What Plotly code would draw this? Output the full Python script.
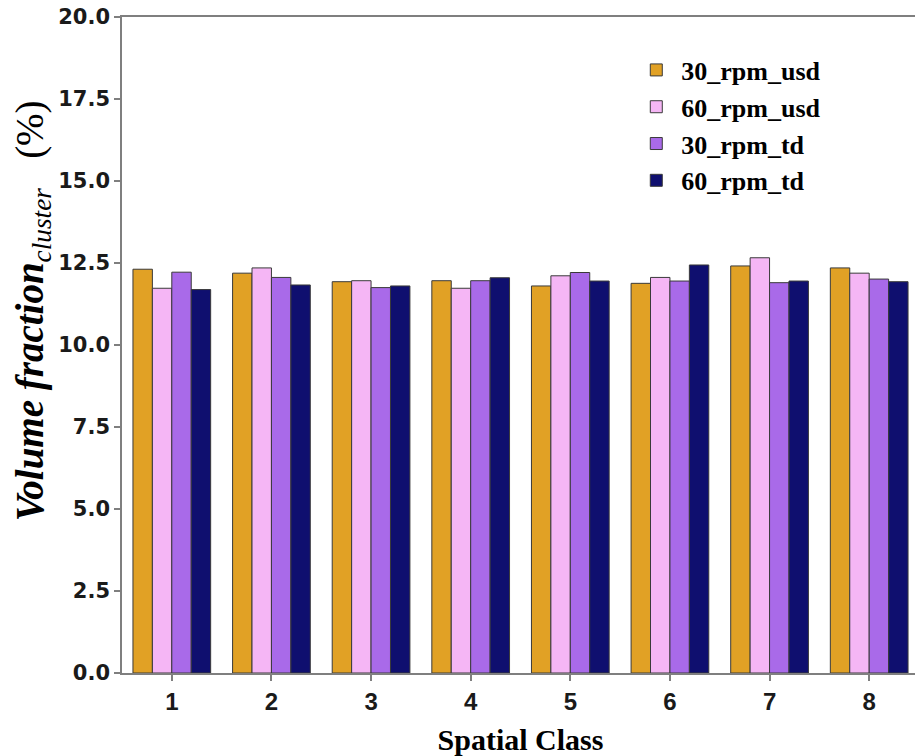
import plotly.graph_objects as go

categories = [1, 2, 3, 4, 5, 6, 7, 8]
series_names = ["30_rpm_usd", "60_rpm_usd", "30_rpm_td", "60_rpm_td"]
rpm30_usd = [12.31, 12.19, 11.93, 11.96, 11.80, 11.88, 12.41, 12.35]
rpm60_usd = [11.73, 12.35, 11.96, 11.73, 12.11, 12.06, 12.66, 12.19]
rpm30_td = [12.22, 12.06, 11.75, 11.96, 12.21, 11.95, 11.90, 12.01]
rpm60_td = [11.69, 11.83, 11.80, 12.05, 11.95, 12.44, 11.95, 11.93]
colors = ["#E1A125", "#F5B6F5", "#A96AE9", "#0F0F6F"]
y_ticks = [0, 2.5, 5, 7.5, 10, 12.5, 15, 17.5, 20]

fig = go.Figure()
for name, vals, col in zip(series_names, [rpm30_usd, rpm60_usd, rpm30_td, rpm60_td], colors):
    fig.add_trace(go.Bar(
        x=categories, y=vals, name=name,
        marker=dict(color=col, line=dict(color="#3a3a3a", width=1)),
    ))

axis_line = "#7f7f7f"
fig.update_layout(
    width=915, height=748,
    margin=dict(l=114, r=4, t=9, b=83),
    paper_bgcolor="white", plot_bgcolor="white",
    barmode="group", bargap=0.22, bargroupgap=0,
    showlegend=True,
    legend=dict(
        x=0.639, y=0.955, xanchor="left", yanchor="top",
        font=dict(family="Liberation Serif", size=26, color="black", weight="bold"),
        bgcolor="rgba(255,255,255,0)", borderwidth=0,
        itemwidth=40, tracegroupgap=0,
    ),
    xaxis=dict(
        range=[0.5, 8.5], tickmode="array", tickvals=categories,
        ticktext=[str(c) for c in categories],
        showline=True, linecolor=axis_line, linewidth=1.5, mirror=True,
        ticks="outside", ticklen=6, tickcolor=axis_line, tickwidth=1.5,
        showgrid=False, zeroline=False, automargin=False,
        ticklabeloverflow="allow",
        tickfont=dict(family="Liberation Sans Narrow, Liberation Sans", size=24, color="#1a1a1a", weight="bold"),
        title=dict(text="Spatial Class", standoff=15,
                   font=dict(family="Liberation Serif", size=30, color="black", weight="bold")),
    ),
    yaxis=dict(
        range=[0, 20], tickmode="array", tickvals=y_ticks,
        ticktext=[f"{v:.1f}" for v in y_ticks],
        showline=True, linecolor=axis_line, linewidth=1.5, mirror=True,
        ticks="outside", ticklen=6, tickcolor=axis_line, tickwidth=1.5,
        showgrid=False, zeroline=False, automargin=False,
        ticklabeloverflow="allow",
        tickfont=dict(family="DejaVu Sans", size=21, color="#1a1a1a", weight="bold"),
        title=dict(
            text="&nbsp;&nbsp;&nbsp;&nbsp;&nbsp;&nbsp;&nbsp;<b><i>Volume fraction</i></b><sub><i>cluster</i></sub>&nbsp;&nbsp;&nbsp;(%)",
            standoff=14,
            font=dict(family="Liberation Serif", size=39, color="black"),
        ),
    ),
)

fig.write_html("out.html")
